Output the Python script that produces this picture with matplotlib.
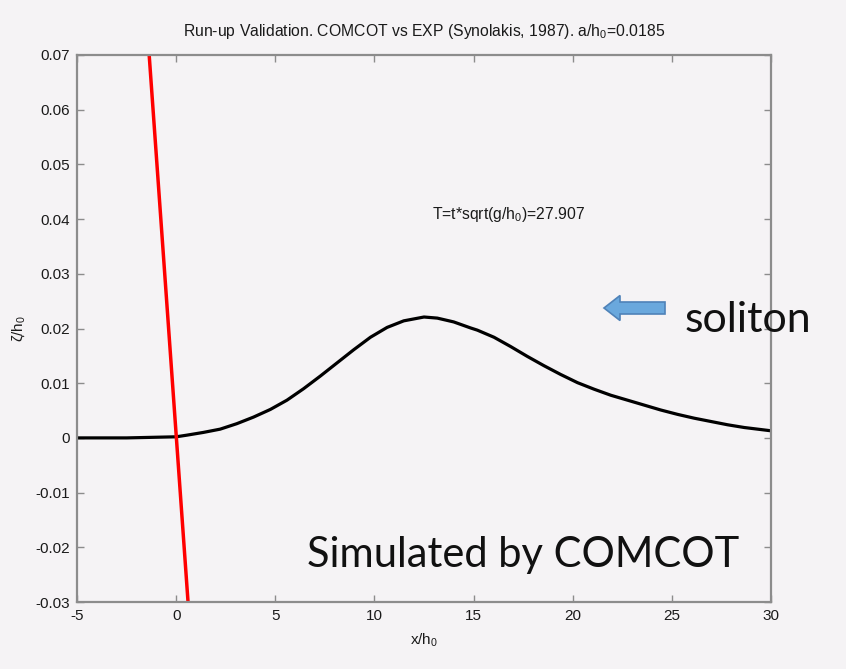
import matplotlib
matplotlib.use("Agg")
import matplotlib.pyplot as plt
from matplotlib.patches import FancyArrow

# ---- data ----
soliton_x = [-5.0, -2.5, 0.0, 0.54, 1.37, 2.22, 3.06, 3.9, 4.75, 5.59, 6.43, 7.27, 8.11,
             8.95, 9.8, 10.64, 11.48, 12.5, 13.17, 14.0, 14.85, 15.19, 16.03, 16.87,
             17.71, 18.55, 19.39, 20.24, 21.08, 21.92, 22.76, 23.6, 24.44, 25.29,
             26.13, 26.97, 27.81, 28.65, 30.0]
soliton_y = [0.0, 0.0, 0.0002, 0.0005, 0.001, 0.0016, 0.0026, 0.0038, 0.0052, 0.0069,
             0.009, 0.0113, 0.0137, 0.0161, 0.0184, 0.0202, 0.0214, 0.0221, 0.0219,
             0.0212, 0.0201, 0.0197, 0.0184, 0.0167, 0.0149, 0.0132, 0.0116, 0.0101,
             0.0089, 0.0078, 0.0069, 0.006, 0.0051, 0.0043, 0.0036, 0.003, 0.0024,
             0.0019, 0.0013]
beach_x = [-1.36, 0.6]
beach_y = [0.07, -0.03]

x_ticks = [-5, 0, 5, 10, 15, 20, 25, 30]
x_ticklabels = ["-5", "0", "5", "10", "15", "20", "25", "30"]
y_ticks = [-0.03, -0.02, -0.01, 0.0, 0.01, 0.02, 0.03, 0.04, 0.05, 0.06, 0.07]
y_ticklabels = ["-0.03", "-0.02", "-0.01", "0", "0.01", "0.02", "0.03",
                "0.04", "0.05", "0.06", "0.07"]

title_text = "Run-up Validation. COMCOT vs EXP (Synolakis, 1987). a/h$_0$=0.0185"
time_text = "T=t*sqrt(g/h$_0$)=27.907"
xlabel_text = "x/h$_0$"
ylabel_text = "ζ/h$_0$"
soliton_label = "soliton"
sim_label = "Simulated by COMCOT"

bg = "#f5f3f5"
spine_c = "#8c8c8c"
txt_c = "#1a1a1a"

plt.rcParams["font.family"] = ["Liberation Sans", "DejaVu Sans"]
plt.rcParams["mathtext.fontset"] = "custom"
plt.rcParams["mathtext.rm"] = "Liberation Sans"
plt.rcParams["mathtext.it"] = "Liberation Sans"

fig = plt.figure(figsize=(8.46, 6.69), dpi=100, facecolor=bg)
ax = fig.add_axes([77 / 846, 1 - 602 / 669, (771 - 77) / 846, (602 - 55) / 669])
ax.set_facecolor(bg)

ax.plot(soliton_x, soliton_y, color="black", lw=2.3, solid_capstyle="butt",
        solid_joinstyle="round")
ax.plot(beach_x, beach_y, color="#ff0000", lw=2.5)

ax.set_xlim(-5, 30)
ax.set_ylim(-0.03, 0.07)
ax.set_xticks(x_ticks)
ax.set_xticklabels(x_ticklabels)
ax.set_yticks(y_ticks)
ax.set_yticklabels(y_ticklabels)
ax.tick_params(direction="in", top=True, right=True, length=5, width=1,
               color=spine_c, labelcolor=txt_c, labelsize=11, pad=5)
for s in ax.spines.values():
    s.set_color(spine_c)
    s.set_linewidth(1.6)

ax.set_title(title_text, fontsize=11.3, color=txt_c, pad=14)
ax.set_xlabel(xlabel_text, fontsize=11, color=txt_c, labelpad=6)
ax.set_ylabel(ylabel_text, fontsize=11, color=txt_c, labelpad=6)

ax.text(12.9, 0.0408, time_text, fontsize=11.3, color=txt_c, va="center", ha="left")

# block arrow (figure coords in pixels -> fractions)
arr = FancyArrow(665 / 846, 1 - 308 / 669, -61 / 846, 0, width=12 / 669,
                 head_width=25 / 669, head_length=16 / 846,
                 length_includes_head=True, transform=fig.transFigure,
                 facecolor="#6aa8dd", edgecolor="#4f82b8", lw=1.2)
fig.patches.append(arr)

fig.text(685 / 846, 1 - 320 / 669, soliton_label, fontsize=31, family=["Lato", "DejaVu Sans"],
         color="#111111", va="center", ha="left")
fig.text(307 / 846, 1 - 555 / 669, sim_label, fontsize=30, family=["Lato", "DejaVu Sans"],
         color="#111111", va="center", ha="left")

fig.savefig("out.png", dpi=100, facecolor=bg)
